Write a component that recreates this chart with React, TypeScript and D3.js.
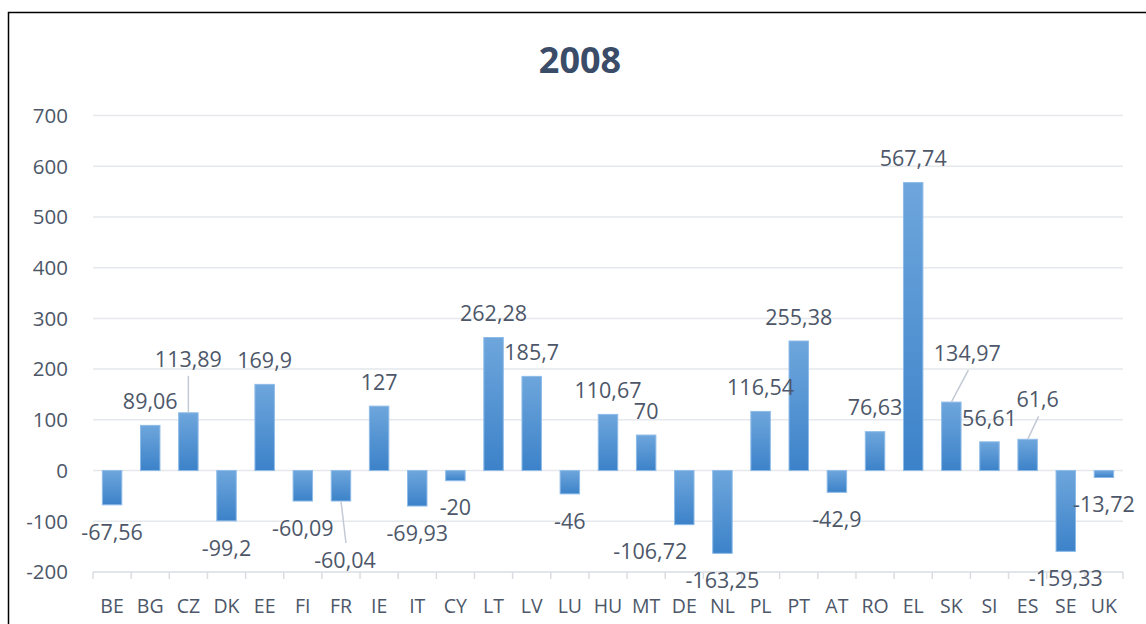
import React, { useEffect } from "react";
import * as d3 from "d3";

// 2008 values per member state
const countries = [
  "BE", "BG", "CZ", "DK", "EE", "FI", "FR", "IE", "IT", "CY", "LT", "LV", "LU", "HU",
  "MT", "DE", "NL", "PL", "PT", "AT", "RO", "EL", "SK", "SI", "ES", "SE", "UK",
];
const values = [
  -67.56, 89.06, 113.89, -99.2, 169.9, -60.09, -60.04, 127, -69.93, -20, 262.28, 185.7, -46,
  110.67, 70, -106.72, -163.25, 116.54, 255.38, -42.9, 76.63, 567.74, 134.97, 56.61, 61.6,
  -159.33, -13.72,
];
const yTicks = [-200, -100, 0, 100, 200, 300, 400, 500, 600, 700];
const title = "2008";

// label placement tweaks (Excel moved a few labels and added leader lines)
const nudges: Record<string, { dx: number; dy: number; leader?: boolean }> = {
  CZ: { dx: 0, dy: -54, leader: true },
  FR: { dx: 4, dy: 59, leader: true },
  DE: { dx: -34, dy: 27 },
  SK: { dx: 16, dy: -49, leader: true },
  ES: { dx: 10, dy: -40, leader: true },
};

const W = 1146;
const H = 624;
const font = "'Open Sans', 'DejaVu Sans', sans-serif";
const textColor = "#4d5769";

const fmt = (v: number) => String(v).replace(".", ",");

export default function App() {
  useEffect(() => {
    document.body.style.margin = "0";
  }, []);

  const x = d3
    .scaleBand<string>()
    .domain(countries)
    .range([93, 1123])
    .paddingInner(0.49)
    .paddingOuter(0.245);

  const y = d3.scaleLinear().domain([-200, 700]).range([572, 115.5]);

  const step = x.step();
  const bounds = d3.range(countries.length + 1).map((i) => 93 + i * step);

  return (
    <svg width={W} height={H} style={{ display: "block", background: "#fff" }}>
      <defs>
        <linearGradient id="barFill" x1="0" y1="0" x2="0" y2="1">
          <stop offset="0%" stopColor="#6ea6dc" />
          <stop offset="100%" stopColor="#3c82c9" />
        </linearGradient>
      </defs>

      {/* chart border */}
      <rect x={8.5} y={12.5} width={W} height={H} fill="none" stroke="#000" strokeWidth={1.5} />

      <text
        x={580}
        y={73}
        textAnchor="middle"
        fontFamily={font}
        fontWeight={700}
        fontSize={36}
        fill="#3b4c68"
      >
        {title}
      </text>

      {/* gridlines + y labels */}
      {yTicks.map((t) => (
        <g key={t}>
          <line
            x1={93}
            x2={1123}
            y1={y(t)}
            y2={y(t)}
            stroke={t === -200 ? "#d9dde3" : "#e5e8ec"}
            strokeWidth={1.5}
          />
          <text
            x={68}
            y={y(t)}
            dy="0.36em"
            textAnchor="end"
            fontFamily={font}
            fontSize={20.5}
            fill={textColor}
          >
            {t}
          </text>
        </g>
      ))}

      {/* category ticks */}
      {bounds.map((bx, i) => (
        <line key={i} x1={bx} x2={bx} y1={572} y2={579} stroke="#d9dde3" strokeWidth={1.5} />
      ))}

      {/* bars */}
      {countries.map((c, i) => {
        const v = values[i];
        const top = y(Math.max(0, v));
        const h = Math.abs(y(v) - y(0));
        return (
          <rect
            key={c}
            x={x(c)}
            y={top}
            width={x.bandwidth()}
            height={h}
            fill="url(#barFill)"
            stroke="#8dbbe8"
            strokeWidth={1}
          />
        );
      })}

      {/* data labels */}
      {countries.map((c, i) => {
        const v = values[i];
        const cx = (x(c) as number) + x.bandwidth() / 2;
        const end = y(v);
        const n = nudges[c] || { dx: 0, dy: v >= 0 ? -24 : 27 };
        const lx = cx + n.dx;
        const ly = end + n.dy;
        let leader: React.ReactNode = null;
        if (n.leader) {
          const ty = v >= 0 ? ly + 17 : ly - 17;
          leader = (
            <line x1={cx} y1={end} x2={lx + (n.dx ? 1 : 0)} y2={ty} stroke="#c3cad5" strokeWidth={1.5} />
          );
        }
        return (
          <g key={c}>
            {leader}
            <text
              x={lx}
              y={ly}
              dy="0.36em"
              textAnchor="middle"
              fontFamily={font}
              fontSize={21.5}
              fill={textColor}
            >
              {fmt(v)}
            </text>
          </g>
        );
      })}

      {/* category labels */}
      {countries.map((c) => (
        <text
          key={c}
          x={(x(c) as number) + x.bandwidth() / 2}
          y={606}
          dy="0.36em"
          textAnchor="middle"
          fontFamily={font}
          fontSize={19.5}
          fill={textColor}
        >
          {c}
        </text>
      ))}
    </svg>
  );
}
